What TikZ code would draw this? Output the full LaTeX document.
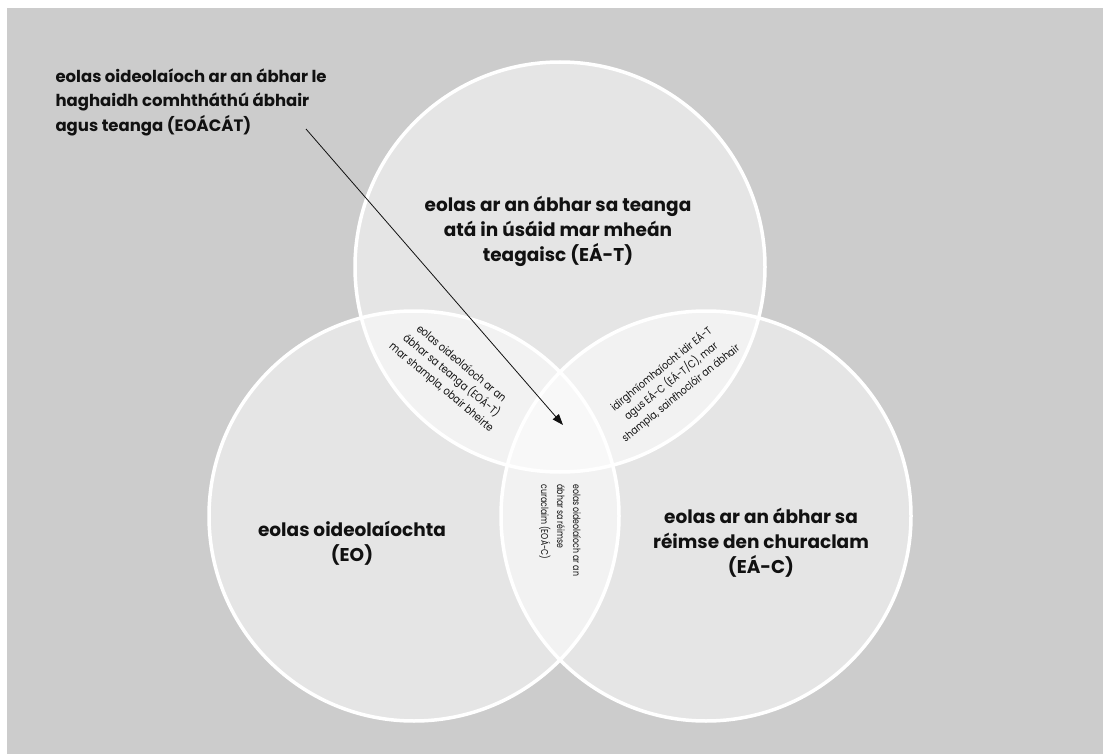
\documentclass[tikz,border=0pt]{standalone}
\usepackage{fontspec}
\setmainfont{Poppins}
\newfontfamily\narrowfont[FakeStretch=0.78]{Poppins}
\newfontfamily\lensfont[FakeStretch=0.86]{Poppins}
\usepackage{tikz}
\usetikzlibrary{positioning, calc, arrows.meta}
\definecolor{bggray}{HTML}{CCCCCC}
\definecolor{inkblack}{HTML}{111111}

\begin{document}
\begin{tikzpicture}[x=1pt, y=-1pt,
    venn/.style={circle, minimum size=410pt, inner sep=0pt, draw=white, line width=3.5pt, fill=white, fill opacity=0.5},
    bigtext/.style={align=center, text=inkblack, font=\fontsize{18.5}{25}\selectfont\bfseries},
    lenstext/.style={align=center, text=inkblack, font=\fontsize{11.2}{15.5}\lensfont},
    pointer/.style={inkblack, line width=0.8pt, -{Triangle[length=11pt, width=8pt]}}]
    \useasboundingbox (0,0) rectangle (1103,754);
    \fill[bggray] (7,8) rectangle (1103,754);
    % the three circles
    \node[venn] (EAT) at (560,267) {};
    \node[venn] (EO) at (414,516) {};
    \node[venn] (EAC) at (706,516) {};
    % circle labels
    \node[bigtext] (lblEAT) at (558,231) {eolas ar an ábhar sa teanga\\atá in úsáid mar mheán\\teagaisc (EÁ-T)};
    \node[bigtext] (lblEO) at (352,543) {eolas oideolaíochta\\(EO)};
    \node[bigtext] (lblEAC) at (761,543) {eolas ar an ábhar sa\\réimse den churaclam\\(EÁ-C)};
    % overlaps
    \node[lenstext, rotate=-40] (EOAT) at (451,376) {eolas oideolaíoch ar an\\ábhar sa teanga (EOÁ-T)\\mar shampla, obair bheirte};
    \node[lenstext, rotate=39, font=\fontsize{10.8}{15.5}\lensfont] (EATC) at (671,381) {idirghníomhaíocht idir EÁ-T\\agus EÁ-C (EÁ-T/C), mar\\shampla, sainfhoclóir an ábhair};
    \node[lenstext, rotate=-90, align=left, anchor=west, font=\fontsize{10}{16}\narrowfont] (EOAC) at (560,481) {eolas oideolaíoch ar an\\ábhar sa réimse\\curaclaim (EOÁ-C)};
    % annotation
    \node[bigtext, align=left, anchor=north west, font=\fontsize{16.5}{24.5}\selectfont\bfseries] (EOACAT) at (52,65) {eolas oideolaíoch ar an ábhar le\\haghaidh comhtháthú ábhair\\agus teanga (EOÁCÁT)};
    \coordinate (tail) at (306,129);
    \coordinate (hub) at (563,425);
    \draw[pointer] (tail) -- (hub);
\end{tikzpicture}
\end{document}
